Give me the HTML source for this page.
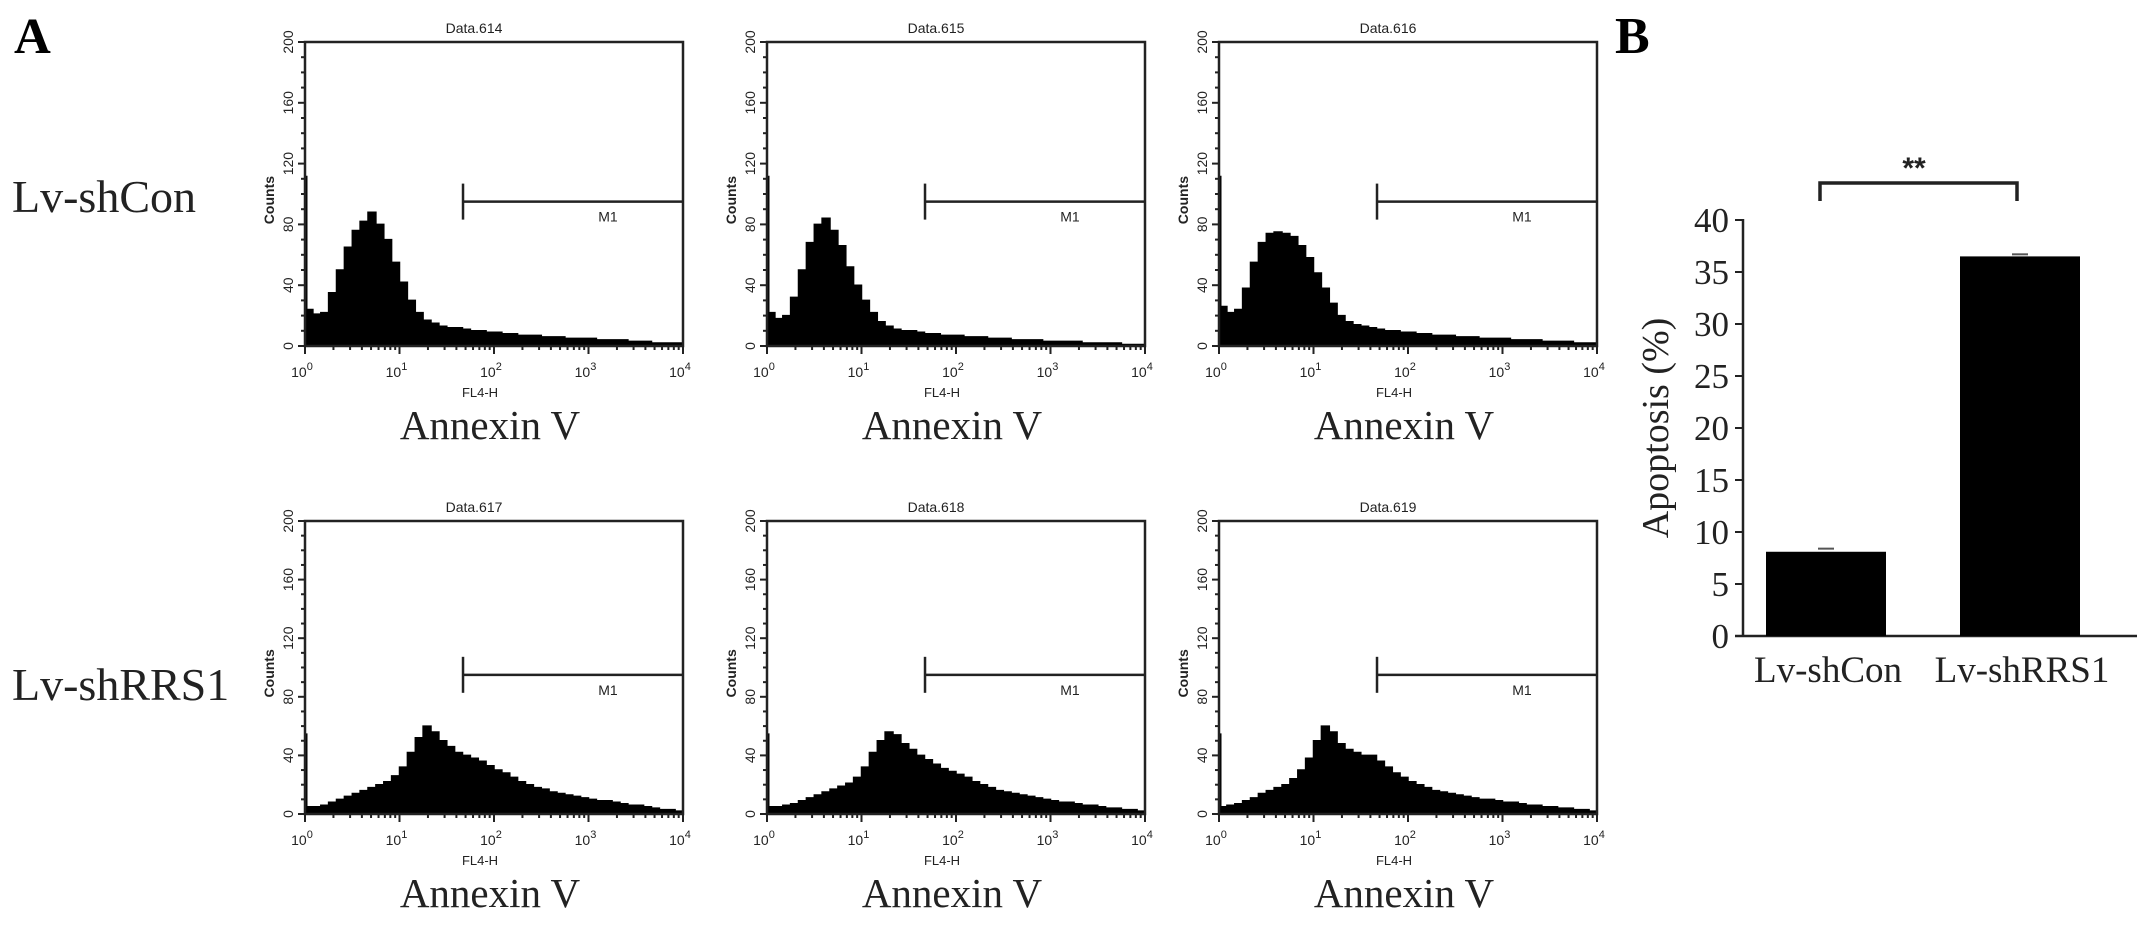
<!DOCTYPE html>
<html><head><meta charset="utf-8"><style>
html,body{margin:0;padding:0;background:#fff;}
svg{display:block;}
</style></head><body>
<svg id="fig" xmlns="http://www.w3.org/2000/svg" width="2150" height="926" viewBox="0 0 2150 926">
<rect width="2150" height="926" fill="#fff"/>
<text x="14" y="53" font-family="Liberation Serif, serif" font-weight="bold" font-size="51">A</text>
<text x="1615" y="53" font-family="Liberation Serif, serif" font-weight="bold" font-size="52">B</text>
<text x="12" y="212" font-family="Liberation Serif, serif" font-size="46" fill="#222">Lv-shCon</text>
<text x="12" y="700" font-family="Liberation Serif, serif" font-size="46" fill="#222">Lv-shRRS1</text>
<g id="hists"></g>
<g id="bars"></g>
</svg>
<script>
// ---- Histogram data (counts per 1/12-decade bin, 10^0..10^4) ----
const histTitles = ["Data.614","Data.615","Data.616","Data.617","Data.618","Data.619"];
const hist614 = [24,21,22,35,50,65,76,82,88,80,70,55, 42,30,22,17,15,13,12,12,11,10,10,9, 9,8,8,7,7,7,6,6,6,5,5,5, 5,4,4,4,4,3,3,3,2,2,2,2];
const hist615 = [22,18,20,32,50,68,80,84,76,66,52,40, 30,22,16,13,11,10,10,9,8,8,7,7, 7,6,6,6,5,5,5,4,4,4,4,3, 3,3,3,3,2,2,2,2,2,1,1,1];
const hist616 = [26,22,24,38,55,68,74,75,74,72,66,58, 48,38,28,20,16,14,13,12,11,10,10,9, 9,8,8,7,7,7,6,6,6,5,5,5, 5,4,4,4,4,3,3,3,3,2,2,2];
const hist617 = [5,5,6,8,10,12,14,16,18,20,22,26, 32,42,52,60,56,50,46,42,40,38,36,33, 30,28,25,22,20,18,17,15,14,13,12,11, 10,9,9,8,7,6,6,5,4,3,3,2];
const hist618 = [5,5,6,7,9,11,13,15,17,19,21,25, 32,42,50,56,54,48,44,40,37,34,31,29, 27,25,22,20,18,16,15,14,13,12,11,10, 9,8,8,7,6,6,5,4,4,3,3,2];
const hist619 = [5,6,7,9,11,14,16,18,20,24,30,38, 50,60,56,48,44,42,40,40,36,32,28,25, 22,20,18,16,15,14,13,12,11,10,10,9, 8,8,7,6,6,5,5,4,4,3,3,2];
const edgeSpike = [112,112,112,55,55,55];
const gateStart = [47,47,47,47,47,47];
const gateLevel = [95,95,95,95,95,95];
const yTicks = [0,40,80,120,160,200];
const xDecades = [0,1,2,3,4];

// ---- Bar chart data ----
const barCategories = ["Lv-shCon","Lv-shRRS1"];
const barValues = [8.1,36.5];
const barErrors = [0.3,0.2];
const barTicks = [0,5,10,15,20,25,30,35,40];

const NS = "http://www.w3.org/2000/svg";
function mk(tag, attrs, parent, txt){
  const e = document.createElementNS(NS, tag);
  for (const k in attrs) e.setAttribute(k, attrs[k]);
  if (txt !== undefined) e.textContent = txt;
  parent.appendChild(e);
  return e;
}
const allHist = [hist614,hist615,hist616,hist617,hist618,hist619];
const lefts = [305,767,1219];
const rowGeom = [{top:42,zero:346},{top:521,zero:814}];
const W = 378, DEC = W/4;
const hg = document.getElementById("hists");
const SANS = "Liberation Sans, sans-serif";

allHist.forEach((data, p) => {
  const left = lefts[p % 3], g0 = rowGeom[Math.floor(p/3)];
  const top = g0.top, zero = g0.zero, H = zero - top;
  const ys = v => zero - v / 200 * H;
  const xs = lg => left + lg * DEC;
  const g = mk("g", {}, hg);
  
  
  let d = "M" + left + "," + zero;
  const bw = W / data.length;
  data.forEach((v, i) => {
    const x0 = left + i * bw, x1 = x0 + bw;
    d += " L" + x0.toFixed(1) + "," + ys(v).toFixed(1) + " L" + x1.toFixed(1) + "," + ys(v).toFixed(1);
  });
  d += " L" + (left + W) + "," + zero + " Z";
  const hp = mk("path", {d: d, fill: "#000", stroke: "#000", "stroke-width": 1.5, "stroke-linejoin": "miter"}, g);
  
  
  const sp = mk("line", {x1: left+1, y1: zero, x2: left+1, y2: ys(edgeSpike[p]), stroke: "#000", "stroke-width": 3}, g);
  
  
  const fr = mk("rect", {x: left, y: top, width: W, height: H, fill: "none", stroke: "#222", "stroke-width": 2.5}, g);
  
  
  for (let v = 0; v <= 200; v += 10) {
    const major = v % 40 === 0;
    mk("line", {x1: left - (major ? 7 : 4), x2: left, y1: ys(v), y2: ys(v), stroke: "#222", "stroke-width": 2}, g);
  }
  yTicks.forEach(v => {
    const t = mk("text", {x: 0, y: 0, transform: "translate(" + (left - 12) + "," + ys(v) + ") rotate(-90)", "text-anchor": "middle", "font-family": SANS, "font-size": 14, fill: "#222"}, g, String(v));
    
    
  });
  const cl = mk("text", {x: 0, y: 0, transform: "translate(" + (left - 31) + "," + ys(96) + ") rotate(-90)", "text-anchor": "middle", "font-family": SANS, "font-size": 14, "font-weight": "bold", fill: "#222"}, g, "Counts");
  
  
  for (let dd = 0; dd < 4; dd++) {
    for (let m = 2; m <= 9; m++) {
      const x = xs(dd + Math.log10(m));
      mk("line", {x1: x, x2: x, y1: zero, y2: zero + 4, stroke: "#222", "stroke-width": 2}, g);
    }
  }
  xDecades.forEach(dd => {
    const x = xs(dd);
    mk("line", {x1: x, x2: x, y1: zero, y2: zero + 8, stroke: "#222", "stroke-width": 2}, g);
    const t = mk("text", {x: x - 3, y: zero + 31, "text-anchor": "middle", "font-family": SANS, "font-size": 14, fill: "#222"}, g);
    
    
    mk("tspan", {}, t, "10");
    mk("tspan", {dy: -7, "font-size": 11}, t, String(dd));
  });
  const fl = mk("text", {x: left + W/2 - 14, y: zero + 51, "text-anchor": "middle", "font-family": SANS, "font-size": 13, fill: "#222"}, g, "FL4-H");
  
  
  const an = mk("text", {x: left + W/2 - 4, y: zero + 93, "text-anchor": "middle", "font-family": "Liberation Serif, serif", "font-size": 41, fill: "#222"}, g, "Annexin V");
  
  
  const tt = mk("text", {x: left + W/2 - 20, y: top - 9, "text-anchor": "middle", "font-family": SANS, "font-size": 14, fill: "#222"}, g, histTitles[p]);
  
  
  const gx = xs(Math.log10(gateStart[p])), gy = ys(gateLevel[p]);
  const gl = mk("line", {x1: gx, x2: left + W, y1: gy, y2: gy, stroke: "#222", "stroke-width": 2.5}, g);
  
  
  mk("line", {x1: gx, x2: gx, y1: gy - 18, y2: gy + 18, stroke: "#222", "stroke-width": 2.5}, g);
  const ml = mk("text", {x: gx + (left + W - gx) / 2 + 35, y: gy + 20, "text-anchor": "middle", "font-family": SANS, "font-size": 14, fill: "#222"}, g, "M1");
  
  
});

// ---- Bar chart ----
const bg = document.getElementById("bars");
const AX = 1743, Y0 = 636, PX = 10.4;
const by = v => Y0 - v * PX;
const catX = [1826, 2020], BW = 120;
const SERIF = "Liberation Serif, serif";
mk("line", {x1: AX, x2: AX, y1: by(40) - 1, y2: Y0, stroke: "#222", "stroke-width": 2.5}, bg);
mk("line", {x1: AX - 8, x2: 2137, y1: Y0, y2: Y0, stroke: "#222", "stroke-width": 2.5}, bg);
barTicks.forEach(v => {
  mk("line", {x1: AX - 8, x2: AX, y1: by(v), y2: by(v), stroke: "#222", "stroke-width": 2}, bg);
  const t = mk("text", {x: 1729, y: by(v) + 12, "text-anchor": "end", "font-family": SERIF, "font-size": 35, fill: "#222"}, bg, String(v));
  
  
});
const yt = mk("text", {x: 0, y: 0, transform: "translate(1668," + by(20) + ") rotate(-90)", "text-anchor": "middle", "font-family": SERIF, "font-size": 38, fill: "#222"}, bg, "Apoptosis (%)");


barValues.forEach((v, i) => {
  const r = mk("rect", {x: catX[i] - BW/2, y: by(v), width: BW, height: Y0 - by(v), fill: "#000"}, bg);
  
  
  const e = mk("line", {x1: catX[i] - 8, x2: catX[i] + 8, y1: by(v + barErrors[i]), y2: by(v + barErrors[i]), stroke: "#555", "stroke-width": 2}, bg);
  
  
  const l = mk("text", {x: catX[i] + 2, y: 682, "text-anchor": "middle", "font-family": SERIF, "font-size": 37, fill: "#222"}, bg, barCategories[i]);
  
  
});
const bk = mk("path", {d: "M1820,201 L1820,183 L2017,183 L2017,201", fill: "none", stroke: "#222", "stroke-width": 3.5}, bg);


const st = mk("text", {x: 1914, y: 178, "text-anchor": "middle", "font-family": SANS, "font-size": 30, "font-weight": "bold", fill: "#222"}, bg, "**");


</script>
</body></html>
